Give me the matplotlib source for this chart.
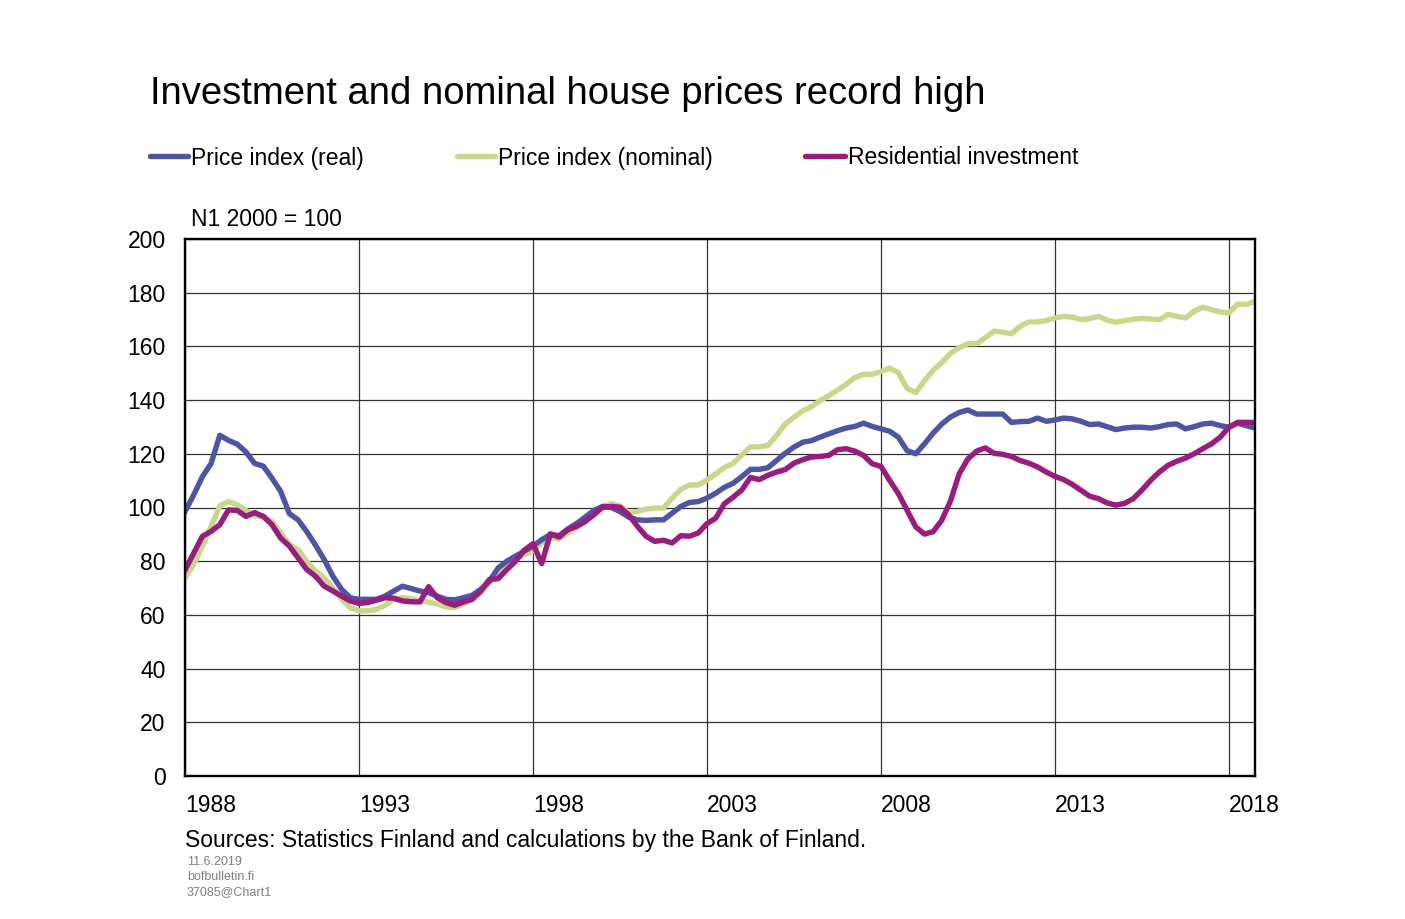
import numpy as np
import pandas as pd
import matplotlib
matplotlib.use("Agg")
import matplotlib.pyplot as plt
from matplotlib.lines import Line2D

plt.rcParams['font.family'] = ['Liberation Sans', 'DejaVu Sans']

# ---- data (quarterly, 1988Q1 .. 2018Q4), index N1 2000 = 100 ----
quarters = pd.period_range('1988Q1', '2018Q4', freq='Q')

price_real = [
    98.5, 104.7, 111.5, 116.4, 126.9, 125.0, 123.6, 120.7, 116.4, 115.4,
    110.9, 106.0, 97.7, 95.4, 91.0, 86.0, 80.6, 74.4, 69.5, 66.4,
    65.8, 65.8, 65.8, 67.0, 68.9, 70.7, 69.8, 68.9, 68.3, 67.0,
    65.8, 65.6, 66.4, 67.3, 69.5, 72.6, 77.5, 80.0, 81.9, 83.7,
    85.6, 88.0, 89.9, 89.5, 92.0, 94.0, 96.4, 98.9, 100.4, 100.0,
    98.5, 96.4, 95.4, 95.2, 95.4, 95.4, 97.9, 100.4, 101.9, 102.2,
    103.5, 105.3, 107.5, 109.0, 111.5, 114.2, 114.2, 114.8, 117.5, 120.2,
    122.5, 124.3, 124.9, 126.2, 127.4, 128.6, 129.6, 130.2, 131.4, 130.2,
    129.3, 128.4, 126.2, 121.2, 120.0, 123.7, 127.7, 131.1, 133.7, 135.4,
    136.3, 134.8, 134.8, 134.8, 134.8, 131.7, 132.0, 132.1, 133.3, 132.1,
    132.6, 133.3, 133.0, 132.1, 130.9, 131.1, 130.1, 129.0, 129.6, 129.9,
    129.9, 129.6, 130.1, 130.9, 131.1, 129.3, 130.1, 131.1, 131.4, 130.5,
    129.9, 131.4, 130.5, 129.6,
]

price_nominal = [
    73.8, 78.8, 85.6, 93.0, 100.6, 102.2, 101.0, 98.9, 96.9, 96.7,
    94.8, 90.5, 86.2, 84.3, 80.0, 76.3, 73.8, 70.1, 65.8, 62.7,
    61.5, 61.5, 62.0, 63.6, 65.8, 66.4, 66.0, 65.2, 64.8, 64.0,
    63.0, 62.7, 64.0, 65.8, 68.3, 72.0, 75.7, 78.1, 80.6, 82.5,
    83.7, 86.8, 88.6, 88.3, 90.5, 92.3, 94.8, 97.9, 100.4, 101.4,
    100.6, 98.1, 98.5, 99.4, 99.8, 99.8, 103.5, 106.8, 108.4, 108.4,
    110.2, 112.5, 114.9, 116.4, 119.5, 122.6, 122.6, 123.1, 126.8, 131.1,
    133.6, 136.0, 137.5, 139.8, 141.6, 143.7, 145.9, 148.4, 149.6, 149.6,
    150.6, 151.9, 150.2, 144.4, 142.8, 147.2, 151.1, 154.0, 157.5, 159.5,
    161.0, 161.0, 163.2, 165.7, 165.3, 164.7, 167.5, 169.1, 169.1, 169.6,
    170.6, 171.2, 170.9, 170.0, 170.4, 171.2, 169.8, 169.0, 169.6, 170.1,
    170.4, 170.2, 170.0, 171.9, 171.2, 170.6, 173.1, 174.6, 173.7, 172.8,
    172.5, 175.8, 175.6, 176.8,
]

residential_investment = [
    76.7, 83.0, 89.3, 91.1, 93.6, 99.1, 98.9, 96.7, 98.1, 96.7,
    93.6, 88.6, 85.6, 81.2, 76.9, 74.4, 70.7, 68.9, 67.0, 65.2,
    64.3, 64.6, 65.5, 66.4, 66.2, 65.2, 64.9, 64.8, 70.5, 66.4,
    64.6, 63.6, 64.8, 65.8, 68.9, 73.2, 73.5, 76.9, 80.0, 84.1,
    86.5, 79.1, 90.2, 89.0, 91.7, 93.0, 94.8, 97.3, 100.1, 100.4,
    100.1, 97.3, 93.0, 89.3, 87.4, 87.8, 86.8, 89.5, 89.3, 90.5,
    94.0, 96.0, 101.4, 103.8, 106.5, 111.2, 110.4, 112.0, 113.2, 114.1,
    116.5, 117.8, 118.8, 119.0, 119.4, 121.5, 121.9, 121.0, 119.4, 116.3,
    115.3, 110.1, 105.2, 99.0, 92.8, 90.1, 91.0, 95.3, 102.5, 112.6,
    118.1, 121.0, 122.2, 120.2, 119.8, 119.0, 117.5, 116.5, 115.1, 113.2,
    111.6, 110.4, 108.6, 106.4, 104.2, 103.3, 101.7, 100.9, 101.5, 103.3,
    106.5, 110.1, 113.2, 115.7, 117.2, 118.4, 120.0, 121.9, 123.7, 126.2,
    129.9, 131.7, 131.7, 131.7,
]

tick_years = [1988, 1993, 1998, 2003, 2008, 2013, 2018]
y_ticks = list(range(0, 201, 20))

series_names = ["Price index (real)", "Price index (nominal)", "Residential investment"]
colors = ["#4F55A6", "#C8D88A", "#991C7E"]

title = "Investment and nominal house prices record high"
unit_label = "N1 2000 = 100"
source = "Sources: Statistics Finland and calculations by the Bank of Finland."
footer = ["11.6.2019", "bofbulletin.fi", "37085@Chart1"]

# ---- figure ----
W, H = 1405, 919
fig = plt.figure(figsize=(W / 100, H / 100), dpi=100)
fx = lambda px: px / W
fy = lambda py: 1 - py / H

ax = fig.add_axes([fx(185), fy(776), fx(1255) - fx(185), fy(239) - fy(776)])

x = quarters.year + (quarters.quarter - 1) / 4.0
lw = 3.9
ax.plot(x, price_nominal, color=colors[1], lw=lw, zorder=3, solid_joinstyle='round')
ax.plot(x, price_real, color=colors[0], lw=lw, zorder=4, solid_joinstyle='round')
ax.plot(x, residential_investment, color=colors[2], lw=lw, zorder=5, solid_joinstyle='round')

ax.set_xlim(1988, x[-1])
ax.set_ylim(0, 200)
ax.set_yticks(y_ticks)
ax.set_xticks(tick_years)
ax.set_xticklabels([str(t) for t in tick_years])
for lab in ax.get_xticklabels():
    lab.set_horizontalalignment('left')
ax.tick_params(axis='both', length=0, labelsize=16.5, colors='black')
ax.tick_params(axis='y', pad=14)
ax.tick_params(axis='x', pad=13)

ax.grid(True, color='#333333', lw=0.9, zorder=1)
ax.set_axisbelow(True)
for s in ax.spines.values():
    s.set_linewidth(1.7)
    s.set_color('black')
    s.set_zorder(6)

# title
fig.text(fx(150), fy(94), title, fontsize=27.5, ha='left', va='center')

# legend (manual placement)
leg_pos = [(150, 188, 191), (457, 495, 498), (805, 845, 848)]
for (x0, x1, xt), name, c in zip(leg_pos, series_names, colors):
    fig.add_artist(Line2D([fx(x0), fx(x1)], [fy(156), fy(156)], color=c, lw=lw,
                          solid_capstyle='round', transform=fig.transFigure))
    fig.text(fx(xt), fy(158), name, fontsize=16.5, ha='left', va='center')

fig.text(fx(191), fy(220), unit_label, fontsize=16.5, ha='left', va='center')
fig.text(fx(185), fy(840), source, fontsize=16.5, ha='left', va='center')
for k, t in enumerate(footer):
    fig.text(fx(187), fy(862 + 15 * k), t, fontsize=9, ha='left', va='center', color='#808080')

fig.savefig("out.png", dpi=100)
